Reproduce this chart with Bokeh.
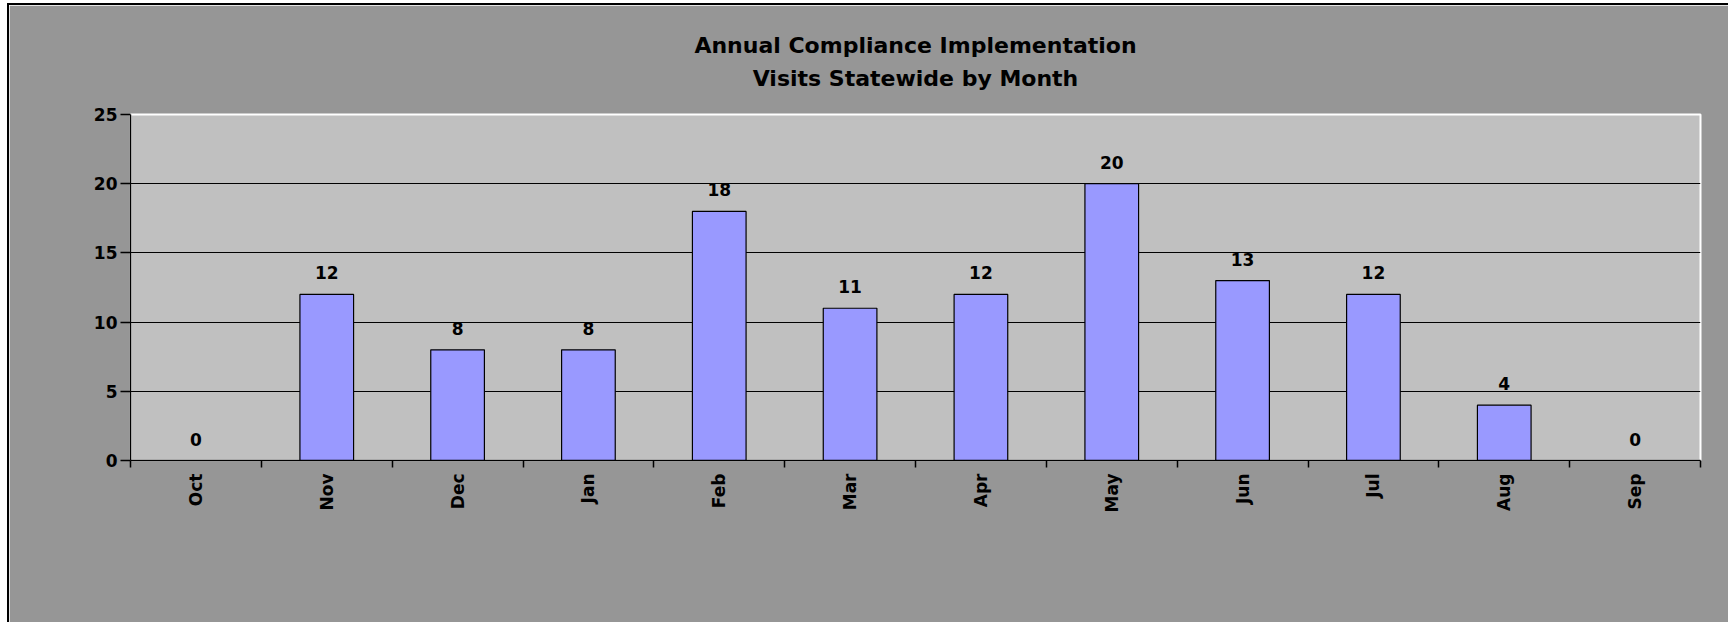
from bokeh.plotting import figure
from bokeh.models import ColumnDataSource, FixedTicker, Range1d, LabelSet, Title
from bokeh.core.properties import value
from bokeh.embed import file_html
from bokeh.resources import INLINE
import math

months = ["Oct", "Nov", "Dec", "Jan", "Feb", "Mar", "Apr", "May", "Jun", "Jul", "Aug", "Sep"]
visits = [0, 12, 8, 8, 18, 11, 12, 20, 13, 12, 4, 0]
y_ticks = [0, 5, 10, 15, 20, 25]
title_lines = ["Annual Compliance Implementation", "Visits Statewide by Month"]

centers = [i + 0.5 for i in range(len(months))]
bounds = list(range(len(months) + 1))

FONT = "DejaVu Sans"

p = figure(width=1721, height=619, output_backend="svg", toolbar_location=None,
           x_range=Range1d(0, len(months)), y_range=Range1d(0, 25),
           min_border_left=121, min_border_right=30, min_border_top=109, min_border_bottom=164,
           title=None)

p.background_fill_color = "#C0C0C0"
p.border_fill_color = "#969696"
p.outline_line_color = "white"
p.outline_line_width = 2

src = ColumnDataSource(dict(x=centers, top=visits, label=[str(v) for v in visits], month=months))
p.vbar(x="x", top="top", bottom=0, width=0.41, source=src,
       fill_color="#9999FF", line_color="black", line_width=1.2)

labels = LabelSet(x="x", y="top", text="label", source=src, y_offset=15,
                  text_align="center", text_baseline="alphabetic",
                  text_font=value(FONT), text_font_style="bold", text_font_size="17px",
                  text_color="black")
p.add_layout(labels)

# grid
p.xgrid.grid_line_color = None
p.ygrid.ticker = FixedTicker(ticks=[5, 10, 15, 20])
p.ygrid.grid_line_color = "black"
p.ygrid.grid_line_width = 1.2

# y axis
p.yaxis.ticker = FixedTicker(ticks=y_ticks)
p.yaxis.axis_line_color = "black"
p.yaxis.axis_line_width = 1.5
p.yaxis.major_tick_out = 10
p.yaxis.major_tick_in = 0
p.yaxis.minor_tick_out = 0
p.yaxis.minor_tick_in = 0
p.yaxis.major_tick_line_width = 1.5
p.yaxis.major_label_standoff = 3
p.yaxis.major_label_text_font = FONT
p.yaxis.major_label_text_font_style = "bold"
p.yaxis.major_label_text_font_size = "17px"
p.yaxis.major_label_text_color = "black"

# x axis: labels at centers, ticks at category boundaries
p.xaxis.ticker = FixedTicker(ticks=centers, minor_ticks=bounds)
p.xaxis.major_label_overrides = {c: m for c, m in zip(centers, months)}
p.xaxis.axis_line_color = "black"
p.xaxis.axis_line_width = 1.5
p.xaxis.major_tick_out = 0
p.xaxis.major_tick_in = 0
p.xaxis.minor_tick_out = 7
p.xaxis.minor_tick_in = 0
p.xaxis.minor_tick_line_width = 1.5
p.xaxis.minor_tick_line_color = "black"
p.xaxis.major_label_orientation = math.pi / 2
p.xaxis.major_label_standoff = 6
p.xaxis.major_label_text_font = FONT
p.xaxis.major_label_text_font_style = "bold"
p.xaxis.major_label_text_font_size = "17px"
p.xaxis.major_label_text_color = "black"

# two-line title
t = Title(text="\n".join(title_lines), align="center", text_align="center",
          text_font=FONT, text_font_style="bold", text_font_size="22px",
          text_line_height=1.3, text_color="black", standoff=48)
p.add_layout(t, "above")

p.styles = {"margin-left": "7px", "margin-top": "3px",
            "border-left": "2px solid black", "border-top": "2px solid black"}

open("out.html", "w").write(file_html(p, INLINE))
